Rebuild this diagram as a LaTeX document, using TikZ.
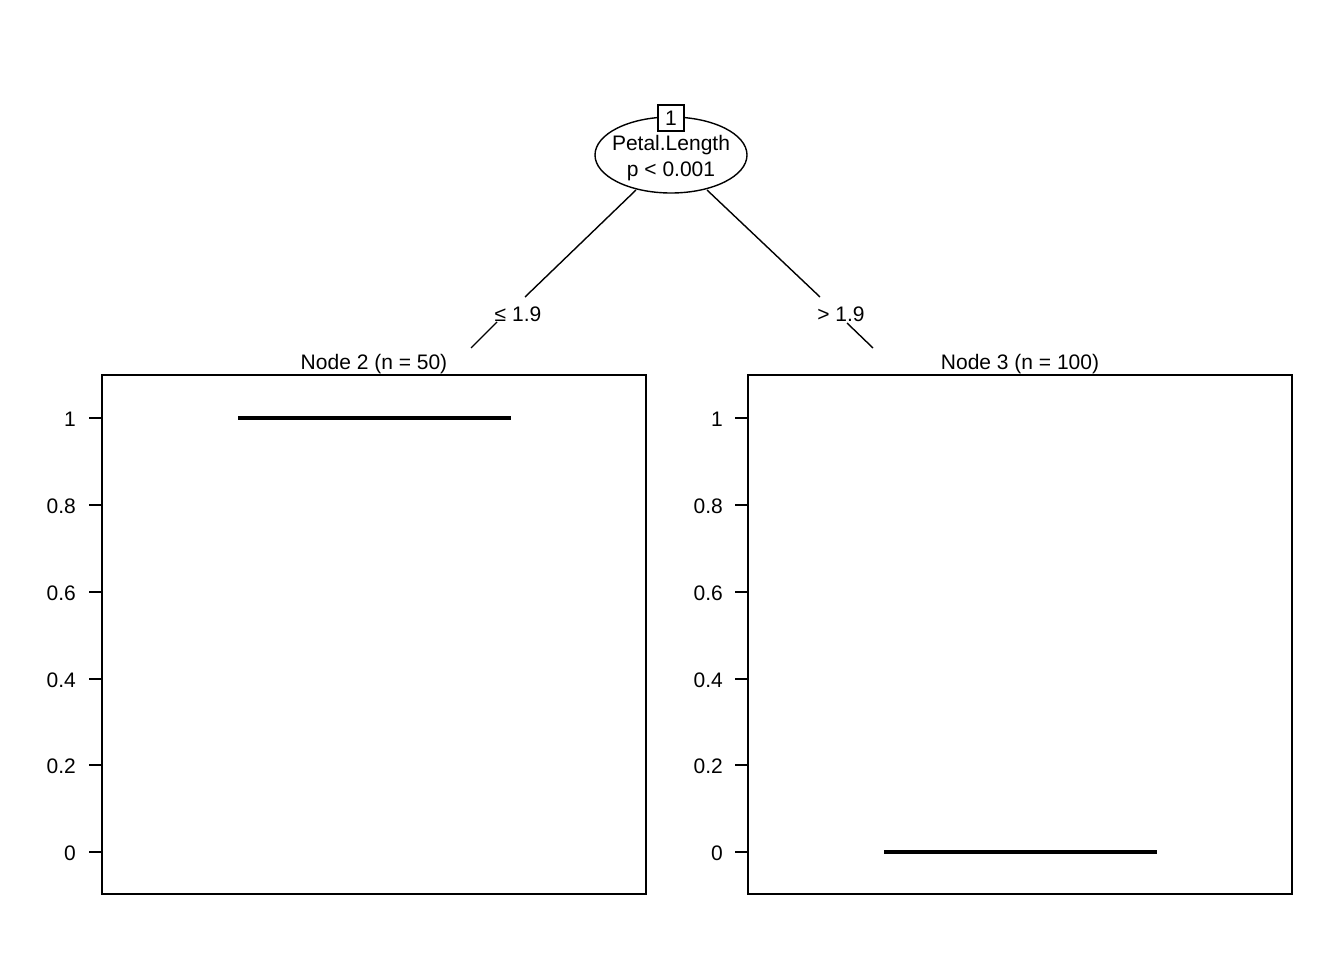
\documentclass[tikz,border=0pt]{standalone}
\usepackage{fontspec}
\setmainfont{Liberation Sans}
\usetikzlibrary{shapes.geometric}
\begin{document}
\begin{tikzpicture}[x=1pt,y=-1pt,
  lbl/.style={font=\fontsize{21}{23}\selectfont, inner sep=0pt},
  edge/.style={line width=1.4pt},
  panel/.style={draw, line width=1.4pt},
  tick/.style={line width=1.4pt},
  ticklbl/.style={lbl, anchor=east},
  fit/.style={line width=3.8pt}]
\useasboundingbox (0,0) rectangle (1344,960);

% inner node
\node[ellipse, draw, line width=1.4pt, minimum width=152pt, minimum height=76pt, inner sep=0pt] (n1) at (671,155) {};
\node[lbl] (n1a) at (671,145) {Petal.Length};
\node[lbl] (n1b) at (671,171) {p < 0.001};
\node[draw, fill=white, line width=1.4pt, minimum width=26pt, minimum height=26pt, inner sep=0pt, font=\fontsize{21}{23}\selectfont] (id1) at (671,118) {1};

% split labels and edge end points
\node[lbl] (sl) at (518,314) {≤ 1.9};
\node[lbl] (sr) at (841,314) {> 1.9};
\coordinate (l0) at (636,190);
\coordinate (l1) at (525,297);
\coordinate (l2) at (497,322);
\coordinate (l3) at (471,348);
\coordinate (r0) at (707,190);
\coordinate (r1) at (820,297);
\coordinate (r2) at (847,323);
\coordinate (r3) at (873,348);
\draw[edge] (l0) -- (l1) (l2) -- (l3);
\draw[edge] (r0) -- (r1) (r2) -- (r3);

% terminal panels
\node[lbl] (t2) at (374,364) {Node 2 (n = 50)};
\node[lbl] (t3) at (1020,364) {Node 3 (n = 100)};
\draw[panel] (102,375) rectangle (646,894);
\draw[panel] (748,375) rectangle (1292,894);

\foreach \v/\yy in {1/418, 0.8/505, 0.6/592, 0.4/679, 0.2/765, 0/852} {
  \draw[tick] (89,\yy) -- (102,\yy);
  \node[ticklbl] at (76,\yy+1) {\v};
  \draw[tick] (735,\yy) -- (748,\yy);
  \node[ticklbl] at (723,\yy+1) {\v};
}

% fitted values
\draw[fit] (238,418) -- (511,418);
\draw[fit] (884,852) -- (1157,852);
\end{tikzpicture}
\end{document}
